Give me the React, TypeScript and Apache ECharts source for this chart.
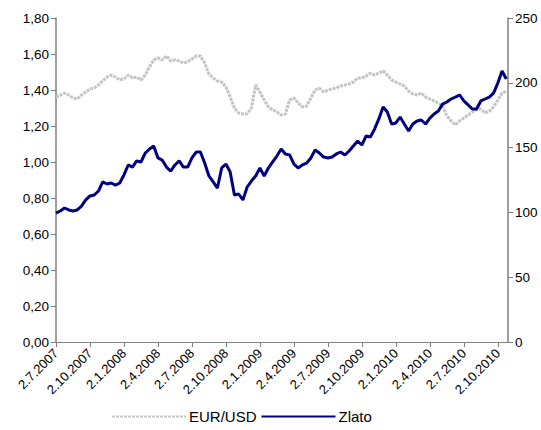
import React, { useEffect, useRef } from "react";
import * as echarts from "echarts";

// x positions are in quarter units starting at 2.7.2007, one point every 1/8 quarter
const STEP = 0.125;

const TICK_LABELS = [
  "2.7.2007", "2.10.2007", "2.1.2008", "2.4.2008", "2.7.2008", "2.10.2008", "2.1.2009",
  "2.4.2009", "2.7.2009", "2.10.2009", "2.1.2010", "2.4.2010", "2.7.2010", "2.10.2010",
];

const LEFT_TICKS = [0, 0.2, 0.4, 0.6, 0.8, 1.0, 1.2, 1.4, 1.6, 1.8];
const RIGHT_TICKS = [0, 50, 100, 150, 200, 250];

const EUR_USD = [
  1.361, 1.372, 1.383, 1.372, 1.356, 1.350, 1.372, 1.389, 1.406, 1.411,
  1.428, 1.450, 1.472, 1.483, 1.472, 1.456, 1.461, 1.483, 1.467, 1.472,
  1.456, 1.483, 1.528, 1.567, 1.578, 1.567, 1.589, 1.561, 1.567, 1.561,
  1.550, 1.556, 1.572, 1.589, 1.589, 1.550, 1.489, 1.467, 1.450, 1.444,
  1.417, 1.361, 1.300, 1.272, 1.267, 1.267, 1.300, 1.428, 1.389, 1.344,
  1.306, 1.289, 1.278, 1.261, 1.267, 1.344, 1.356, 1.328, 1.306, 1.311,
  1.356, 1.400, 1.411, 1.389, 1.400, 1.406, 1.411, 1.422, 1.428, 1.433,
  1.444, 1.467, 1.467, 1.478, 1.494, 1.483, 1.494, 1.506, 1.483, 1.456,
  1.444, 1.433, 1.422, 1.394, 1.378, 1.372, 1.383, 1.361, 1.350, 1.339,
  1.328, 1.311, 1.256, 1.228, 1.206, 1.228, 1.244, 1.261, 1.278, 1.289,
  1.294, 1.272, 1.283, 1.306, 1.344, 1.383, 1.394,
];

const ZLATO = [
  99.5, 101.1, 103.4, 101.9, 101.1, 101.9, 104.9, 109.6, 112.7, 113.4,
  116.5, 123.5, 121.9, 122.7, 121.1, 122.7, 128.9, 136.6, 135.0, 139.7,
  138.9, 145.8, 148.9, 151.2, 142.0, 140.4, 135.0, 131.9, 136.6, 139.7,
  135.0, 135.0, 142.0, 146.6, 146.6, 138.1, 128.1, 123.5, 118.8, 134.3,
  137.3, 131.2, 113.4, 114.2, 109.6, 119.6, 124.2, 128.1, 134.3, 128.1,
  134.3, 138.9, 143.5, 148.9, 145.1, 144.3, 137.3, 134.3, 136.6, 138.1,
  142.0, 148.1, 145.8, 142.7, 142.0, 142.7, 145.1, 146.6, 144.3, 147.4,
  151.2, 155.1, 152.0, 159.0, 158.2, 164.4, 172.1, 181.3, 177.5, 168.2,
  169.0, 173.6, 168.2, 162.8, 168.2, 170.5, 171.3, 168.2, 172.8, 175.9,
  178.2, 183.6, 185.2, 187.5, 189.0, 190.6, 186.0, 182.9, 179.8, 179.8,
  186.0, 187.5, 189.0, 192.1, 199.8, 209.1, 202.9,
];

const FONT = "Liberation Sans, Arial, sans-serif";
const AXIS_GRAY = "#808080";

export default function App() {
  const ref = useRef<HTMLDivElement>(null);

  useEffect(() => {
    if (!ref.current) return;
    const chart = echarts.init(ref.current, null, { renderer: "svg" });
    const eurData = EUR_USD.map((v, i) => [i * STEP, v]);
    const goldData = ZLATO.map((v, i) => [i * STEP, v]);
    const qTicks = TICK_LABELS.map((_, i) => i);

    chart.setOption({
      animation: false,
      backgroundColor: "#ffffff",
      textStyle: { fontFamily: FONT },
      grid: { left: 56, right: 33, top: 18, bottom: 88, containLabel: false, outerBoundsMode: "none" },
      legend: {
        left: 106,
        top: 404,
        itemWidth: 74,
        itemHeight: 12,
        itemGap: 4,
        itemStyle: { opacity: 0 },
        textStyle: { fontFamily: FONT, fontSize: 15, color: "#000", padding: [0, 0, 0, -2] },
        data: ["EUR/USD", "Zlato"],
      },
      xAxis: {
        type: "value",
        min: 0,
        max: 13.3,
        interval: 1,
        splitLine: { show: false },
        axisLine: { show: true, onZero: false, lineStyle: { color: AXIS_GRAY, width: 1 } },
        axisTick: { show: true, length: 5, lineStyle: { color: AXIS_GRAY }, customValues: qTicks },
        axisLabel: {
          rotate: 45,
          margin: 9,
          fontSize: 13,
          color: "#000",
          fontFamily: FONT,
          customValues: qTicks,
          formatter: (v: number) => (Number.isInteger(v) && TICK_LABELS[v] ? TICK_LABELS[v] : ""),
        },
      },
      yAxis: [
        {
          type: "value",
          min: LEFT_TICKS[0],
          max: LEFT_TICKS[LEFT_TICKS.length - 1],
          interval: 0.2,
          position: "left",
          splitLine: { show: false },
          axisLine: { show: true, lineStyle: { color: AXIS_GRAY, width: 1.5 } },
          axisTick: { show: true, length: 5, lineStyle: { color: AXIS_GRAY } },
          axisLabel: {
            margin: 7,
            fontSize: 13.5,
            color: "#000",
            fontFamily: FONT,
            formatter: (v: number) => v.toFixed(2).replace(".", ","),
          },
        },
        {
          type: "value",
          min: RIGHT_TICKS[0],
          max: RIGHT_TICKS[RIGHT_TICKS.length - 1],
          interval: 50,
          position: "right",
          splitLine: { show: false },
          axisLine: { show: true, lineStyle: { color: AXIS_GRAY, width: 1.5 } },
          axisTick: { show: true, length: 5, lineStyle: { color: AXIS_GRAY } },
          axisLabel: { margin: 7, fontSize: 13.5, color: "#000", fontFamily: FONT },
        },
      ],
      series: [
        {
          name: "EUR/USD",
          type: "line",
          yAxisIndex: 0,
          data: eurData,
          symbol: "none",
          smooth: false,
          lineStyle: { color: "#c4c4c4", width: 3, type: [3, 1] },
          itemStyle: { color: "#c4c4c4" },
        },
        {
          name: "Zlato",
          type: "line",
          yAxisIndex: 1,
          data: goldData,
          symbol: "none",
          smooth: false,
          lineStyle: { color: "#000080", width: 3 },
          itemStyle: { color: "#000080" },
        },
      ],
    });

    return () => chart.dispose();
  }, []);

  return (
    <div
      ref={ref}
      style={{ position: "fixed", left: 0, top: 0, width: 541, height: 430 }}
    />
  );
}
